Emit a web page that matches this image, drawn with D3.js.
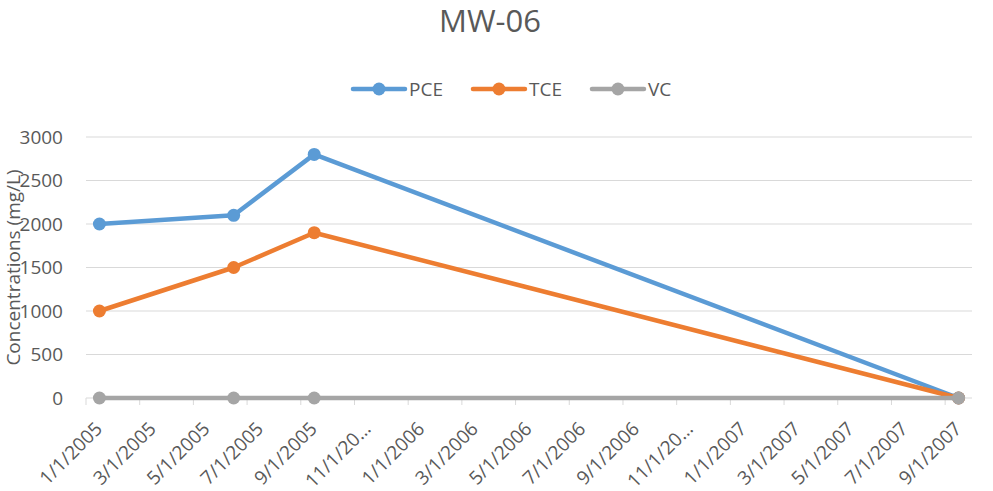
<!DOCTYPE html>
<html>
<head>
<meta charset="utf-8">
<script src="https://cdn.jsdelivr.net/npm/d3@7"></script>
<style>
  html, body { margin: 0; padding: 0; background: #ffffff; }
  text { font-family: "Open Sans", "Liberation Sans", sans-serif; fill: #595959; }
</style>
</head>
<body>
<svg id="canvas" width="993" height="491"></svg>
<script>
'use strict';

/* chart data */
const title = 'MW-06';
const yTitle = 'Concentrations (mg/L)';
const sampleDates = ['1/1/2005', '6/1/2005', '9/1/2005', '9/1/2007'];
const pce = [2000, 2100, 2800, 0];
const tce = [1000, 1500, 1900, 0];
const vc = [0, 0, 0, 0];
const yTicks = [0, 500, 1000, 1500, 2000, 2500, 3000];
const seriesNames = ['PCE', 'TCE', 'VC'];
const seriesColors = ['#5B9BD5', '#ED7D31', '#A5A5A5'];

const W = 993, H = 491;
const margin = { left: 86, right: 21, top: 137, bottom: 93 };

let svg = d3.select('#canvas');
let parse = d3.timeParse('%-m/%-d/%Y');
let fmt = d3.timeFormat('%-m/%-d/%Y');
let dates = sampleDates.map(parse);

/* date axis with a base unit of months (one band per month) */
let months = d3.timeMonth.range(dates[0], d3.timeMonth.offset(dates[dates.length - 1], 1));
let x = d3.scaleBand()
  .domain(months.map(d => +d))
  .range([margin.left, W - margin.right])
  .padding(0);
let xc = function(d){ return x(+d3.timeMonth.floor(d)) + x.bandwidth() / 2; };

let y = d3.scaleLinear()
  .domain([0, 3000])
  .range([H - margin.bottom, margin.top]);

/* title */
svg.append('text')
  .attr('x', 490)
  .attr('y', 32)
  .attr('text-anchor', 'middle')
  .style('font-size', '31px')
  .text(title);

/* horizontal gridlines */
svg.append('g').selectAll('line')
  .data(yTicks.filter(d => d > 0))
  .enter().append('line')
  .attr('x1', margin.left)
  .attr('x2', W - margin.right)
  .attr('y1', d => y(d))
  .attr('y2', d => y(d))
  .style('stroke', '#D9D9D9')
  .style('stroke-width', 1);

/* y axis labels */
let yAxis = svg.append('g')
  .attr('transform', 'translate(' + (margin.left - 23) + ',0)')
  .call(d3.axisLeft(y).tickValues(yTicks).tickFormat(d3.format('d')).tickSize(0).tickPadding(0));
yAxis.select('.domain').remove();
yAxis.selectAll('text')
  .style('font-size', '19px')
  .style('font-family', '"Open Sans", "Liberation Sans", sans-serif')
  .attr('fill', '#595959');

/* y axis title, hugging the left edge */
svg.append('text')
  .attr('transform', 'translate(20,' + ((y(0) + y(3000)) / 2) + ') rotate(-90)')
  .attr('text-anchor', 'middle')
  .style('font-size', '19px')
  .text(yTitle);

/* x axis line and tick marks (every second month) */
let tickMonths = months.filter((d, i) => i % 2 === 0);
svg.append('line')
  .attr('x1', margin.left)
  .attr('x2', W - margin.right)
  .attr('y1', y(0))
  .attr('y2', y(0))
  .style('stroke', '#D9D9D9')
  .style('stroke-width', 1);
svg.append('g').selectAll('line')
  .data(tickMonths)
  .enter().append('line')
  .attr('x1', d => x(+d))
  .attr('x2', d => x(+d))
  .attr('y1', y(0))
  .attr('y2', y(0) + 7)
  .style('stroke', '#D9D9D9')
  .style('stroke-width', 1);

/* x labels, rotated; long ones are cut short like in the original */
svg.append('g').selectAll('text')
  .data(tickMonths)
  .enter().append('text')
  .attr('transform', d => 'translate(' + (xc(d) + 4) + ',' + (y(0) + 32) + ') rotate(-45)')
  .attr('text-anchor', 'end')
  .style('font-size', '19px')
  .text(function(d){
    let s = fmt(d);
    return s.length > 8 ? s.slice(0, 7) + '\u2026' : s;
  });

/* series */
let series = [pce, tce, vc].map(function(vals, i){
  return {
    name: seriesNames[i],
    color: seriesColors[i],
    points: vals.map((v, j) => ({ date: dates[j], value: v }))
  };
});

let line = d3.line()
  .x(d => xc(d.date))
  .y(d => y(d.value));

let sg = svg.append('g').selectAll('g')
  .data(series)
  .enter().append('g');
sg.append('path')
  .attr('d', d => line(d.points))
  .style('fill', 'none')
  .style('stroke', d => d.color)
  .style('stroke-width', 4.5)
  .style('stroke-linejoin', 'round')
  .style('stroke-linecap', 'round');
sg.selectAll('circle')
  .data(d => d.points.map(p => Object.assign({ color: d.color }, p)))
  .enter().append('circle')
  .attr('cx', d => xc(d.date))
  .attr('cy', d => y(d.value))
  .attr('r', 6.5)
  .style('fill', d => d.color);

/* legend */
let legend = svg.append('g');
let lx = 353;
series.forEach(function(s){
  let g = legend.append('g');
  g.append('line')
    .attr('x1', lx).attr('x2', lx + 52)
    .attr('y1', 89).attr('y2', 89)
    .style('stroke', s.color)
    .style('stroke-width', 4.5)
    .style('stroke-linecap', 'round');
  g.append('circle')
    .attr('cx', lx + 26).attr('cy', 89).attr('r', 6.5)
    .style('fill', s.color);
  let t = g.append('text')
    .attr('x', lx + 56)
    .attr('y', 96)
    .style('font-size', '19px')
    .text(s.name);
  lx += 56 + t.node().getComputedTextLength() + 30;
});
</script>
</body>
</html>
